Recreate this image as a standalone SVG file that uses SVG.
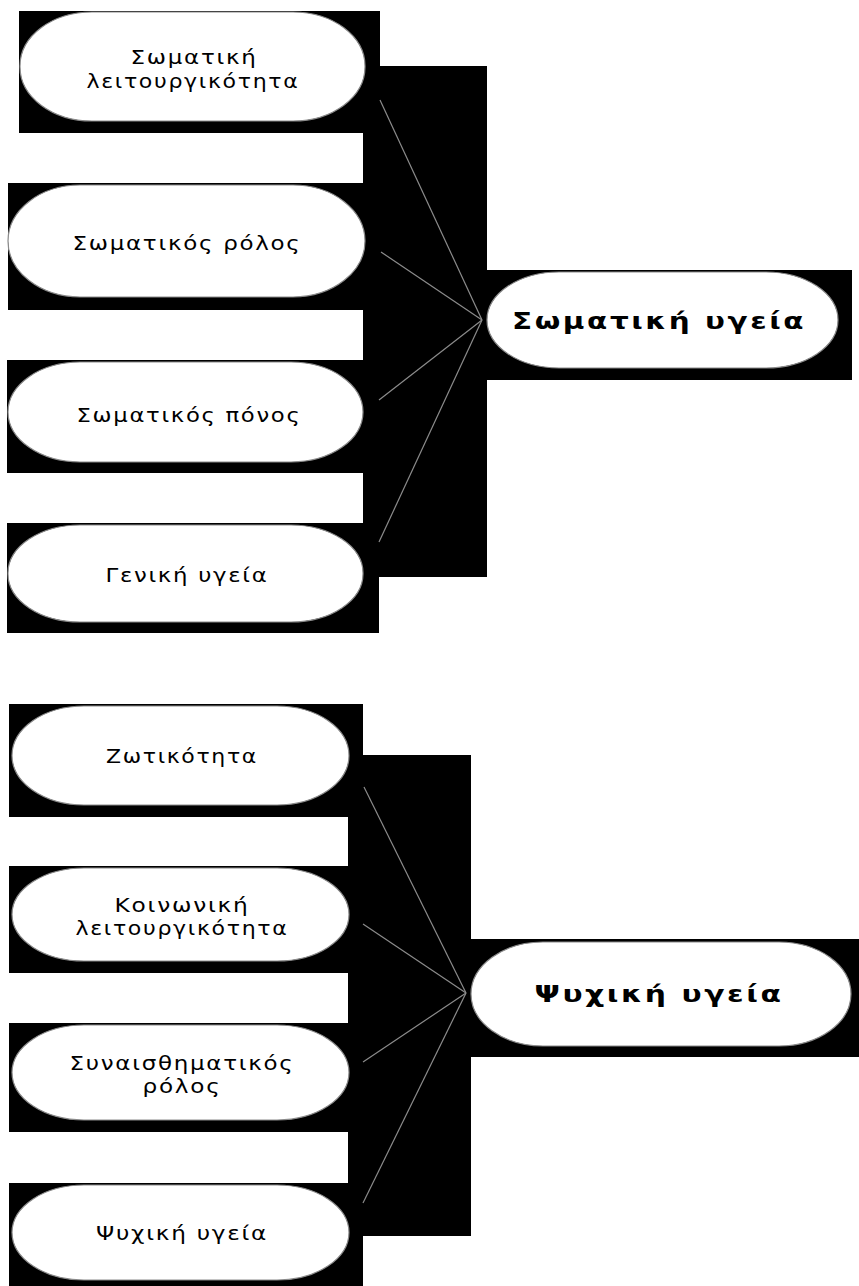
<svg xmlns="http://www.w3.org/2000/svg" width="859" height="1286" viewBox="0 0 859 1286">
<style>
.bg{fill:#000}
.pill{fill:#fff;stroke:#8a8a8a;stroke-width:1.2}
.t{font-family:"DejaVu Sans","Liberation Sans",sans-serif;font-size:20px;letter-spacing:1.5px;fill:#000;text-anchor:middle}
.tb{font-family:"DejaVu Sans","Liberation Sans",sans-serif;font-size:23px;letter-spacing:2px;font-weight:bold;fill:#000;text-anchor:middle}
.c{stroke:#8c8c8c;stroke-width:1.2;fill:none}
</style>
<rect width="859" height="1286" fill="#fff"/>
<g id="backgrounds">
<rect class="bg" x="19" y="11" width="361" height="122"/>
<rect class="bg" x="363" y="66" width="124" height="511"/>
<rect class="bg" x="8" y="183" width="360" height="127"/>
<rect class="bg" x="7" y="360" width="360" height="113"/>
<rect class="bg" x="7" y="523" width="372" height="110"/>
<rect class="bg" x="487" y="270" width="365" height="110"/>
<rect class="bg" x="9" y="704" width="354" height="113"/>
<rect class="bg" x="348" y="755" width="123" height="481"/>
<rect class="bg" x="9" y="866" width="342" height="107"/>
<rect class="bg" x="9" y="1023" width="342" height="109"/>
<rect class="bg" x="9" y="1183" width="354" height="103"/>
<rect class="bg" x="471" y="939" width="388" height="118"/>
</g>
<g id="n1"><rect class="pill" x="20" y="12" width="345" height="109" rx="72" ry="54"/>
<text class="t" x="194" y="64" textLength="127" lengthAdjust="spacingAndGlyphs">Σωματική</text>
<text class="t" x="193" y="88" textLength="213" lengthAdjust="spacingAndGlyphs">λειτουργικότητα</text></g>
<g id="n2"><rect class="pill" x="8" y="185" width="357" height="112" rx="72" ry="56"/>
<text class="t" x="187" y="250" textLength="229" lengthAdjust="spacingAndGlyphs">Σωματικός ρόλος</text></g>
<g id="n3"><rect class="pill" x="8" y="362" width="355" height="100" rx="72" ry="50"/>
<text class="t" x="189" y="422" textLength="225" lengthAdjust="spacingAndGlyphs">Σωματικός πόνος</text></g>
<g id="n4"><rect class="pill" x="8" y="525" width="355" height="97" rx="72" ry="48"/>
<text class="t" x="187" y="582" textLength="163" lengthAdjust="spacingAndGlyphs">Γενική υγεία</text></g>
<g id="n5"><rect class="pill" x="487" y="272" width="351" height="96" rx="72" ry="48"/>
<text class="tb" x="659" y="329" textLength="294" lengthAdjust="spacingAndGlyphs">Σωματική υγεία</text></g>
<g id="n6"><rect class="pill" x="12" y="706" width="337" height="99" rx="72" ry="50"/>
<text class="t" x="182" y="763" textLength="152" lengthAdjust="spacingAndGlyphs">Ζωτικότητα</text></g>
<g id="n7"><rect class="pill" x="12" y="868" width="337" height="93" rx="72" ry="47"/>
<text class="t" x="182" y="912" textLength="135" lengthAdjust="spacingAndGlyphs">Κοινωνική</text>
<text class="t" x="182" y="935" textLength="213" lengthAdjust="spacingAndGlyphs">λειτουργικότητα</text></g>
<g id="n8"><rect class="pill" x="12" y="1025" width="337" height="95" rx="72" ry="48"/>
<text class="t" x="182" y="1070" textLength="225" lengthAdjust="spacingAndGlyphs">Συναισθηματικός</text>
<text class="t" x="182" y="1093" textLength="79" lengthAdjust="spacingAndGlyphs">ρόλος</text></g>
<g id="n9"><rect class="pill" x="12" y="1185" width="337" height="95" rx="72" ry="48"/>
<text class="t" x="182" y="1240" textLength="172" lengthAdjust="spacingAndGlyphs">Ψυχική υγεία</text></g>
<g id="n10"><rect class="pill" x="471" y="942" width="380" height="104" rx="72" ry="52"/>
<text class="tb" x="659" y="1002" textLength="249" lengthAdjust="spacingAndGlyphs">Ψυχική υγεία</text></g>
<g id="connectors">
<line class="c" x1="380" y1="100" x2="482" y2="320"/>
<line class="c" x1="381" y1="252" x2="482" y2="320"/>
<line class="c" x1="379" y1="400" x2="482" y2="320"/>
<line class="c" x1="379" y1="542" x2="482" y2="320"/>
<line class="c" x1="364" y1="787" x2="466" y2="993"/>
<line class="c" x1="363" y1="924" x2="466" y2="993"/>
<line class="c" x1="363" y1="1062" x2="466" y2="993"/>
<line class="c" x1="363" y1="1203" x2="466" y2="993"/>
</g>
</svg>
